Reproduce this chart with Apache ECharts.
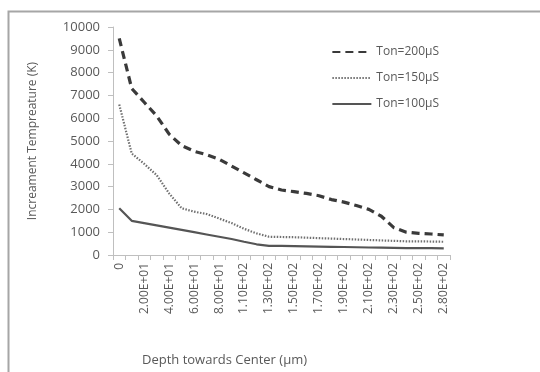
<!DOCTYPE html>
<html>
<head>
<meta charset="utf-8">
<script src="https://cdn.jsdelivr.net/npm/echarts@6/dist/echarts.min.js"></script>
<style>html,body{margin:0;padding:0;background:#fff}#c{width:540px;height:372px}</style>
</head>
<body>
<div id="c"></div>
<script>
var depths = ["0","1.00E+01","2.00E+01","3.00E+01","4.00E+01","5.00E+01","6.00E+01","7.00E+01","8.00E+01","9.50E+01","1.10E+02","1.20E+02","1.30E+02","1.40E+02","1.50E+02","1.60E+02","1.70E+02","1.80E+02","1.90E+02","2.00E+02","2.10E+02","2.20E+02","2.30E+02","2.40E+02","2.50E+02","2.65E+02","2.80E+02"];
var ton200 = [9500,7300,6700,6100,5300,4800,4550,4400,4200,3900,3600,3300,3000,2850,2780,2700,2600,2430,2320,2170,2000,1700,1200,1000,950,920,880];
var ton150 = [6600,4450,4000,3500,2700,2050,1900,1800,1600,1400,1150,950,800,790,780,760,740,720,700,680,660,640,620,600,600,590,580];
var ton100 = [2050,1500,1400,1300,1200,1100,1000,900,800,700,580,470,400,400,390,380,370,360,350,340,330,320,310,300,300,300,290];
var yTicks = [0,1000,2000,3000,4000,5000,6000,7000,8000,9000,10000];

var font = "'Open Sans', sans-serif";
var chart = echarts.init(document.getElementById('c'), null, {renderer:'canvas'});
chart.setOption({
  animation: false,
  backgroundColor: '#fff',
  graphic: [{
    type: 'rect', left: 6, top: 9, z: -1,
    shape: {width: 600, height: 400},
    style: {fill: 'none', stroke: '#a6a6a6', lineWidth: 2}
  }],
  grid: {left: 113, right: 90, top: 27, bottom: 113, containLabel: false},
  legend: {
    right: 96, top: 41, orient: 'vertical', itemGap: 14, itemWidth: 39, itemHeight: 12,
    itemStyle: {opacity: 0},
    textStyle: {fontFamily: font, fontSize: 12, color: '#595959'},
    data: ['Ton=200µS','Ton=150µS','Ton=100µS']
  },
  xAxis: {
    type: 'category', data: depths, boundaryGap: true,
    name: 'Depth towards Center (µm)', nameLocation: 'middle', nameGap: 99,
    nameTextStyle: {fontFamily: font, fontSize: 13, color: '#595959', padding: [0, 114, 0, 0]},
    axisLine: {lineStyle: {color: '#bfbfbf', width: 1}},
    axisTick: {show: true, interval: 0, length: 5, lineStyle: {color: '#bfbfbf'}},
    axisLabel: {interval: 1, rotate: 90, fontFamily: font, fontSize: 12, color: '#595959', margin: 8},
    splitLine: {show: false}
  },
  yAxis: {
    type: 'value', min: yTicks[0], max: yTicks[yTicks.length-1], interval: 1000,
    name: 'Increament Tempreature (K)', nameLocation: 'middle', nameGap: 74,
    nameTextStyle: {fontFamily: font, fontSize: 12, color: '#595959'},
    axisLine: {show: true, lineStyle: {color: '#bfbfbf', width: 1}},
    axisTick: {show: true, length: 5, lineStyle: {color: '#bfbfbf'}},
    axisLabel: {fontFamily: font, fontSize: 13, color: '#595959', margin: 13,
      formatter: function (v) { return String(v); }},
    splitLine: {show: false}
  },
  series: [
    {name: 'Ton=200µS', type: 'line', data: ton200, symbol: 'none', color: '#3a3a3a',
     lineStyle: {type: [8, 5], width: 3.2, color: '#3a3a3a'}},
    {name: 'Ton=150µS', type: 'line', data: ton150, symbol: 'none', color: '#707070',
     lineStyle: {type: [1.5, 1.5], width: 2.2, color: '#707070'}},
    {name: 'Ton=100µS', type: 'line', data: ton100, symbol: 'none', color: '#555555',
     lineStyle: {type: 'solid', width: 2.2, color: '#555555'}}
  ]
});
</script>
</body>
</html>
